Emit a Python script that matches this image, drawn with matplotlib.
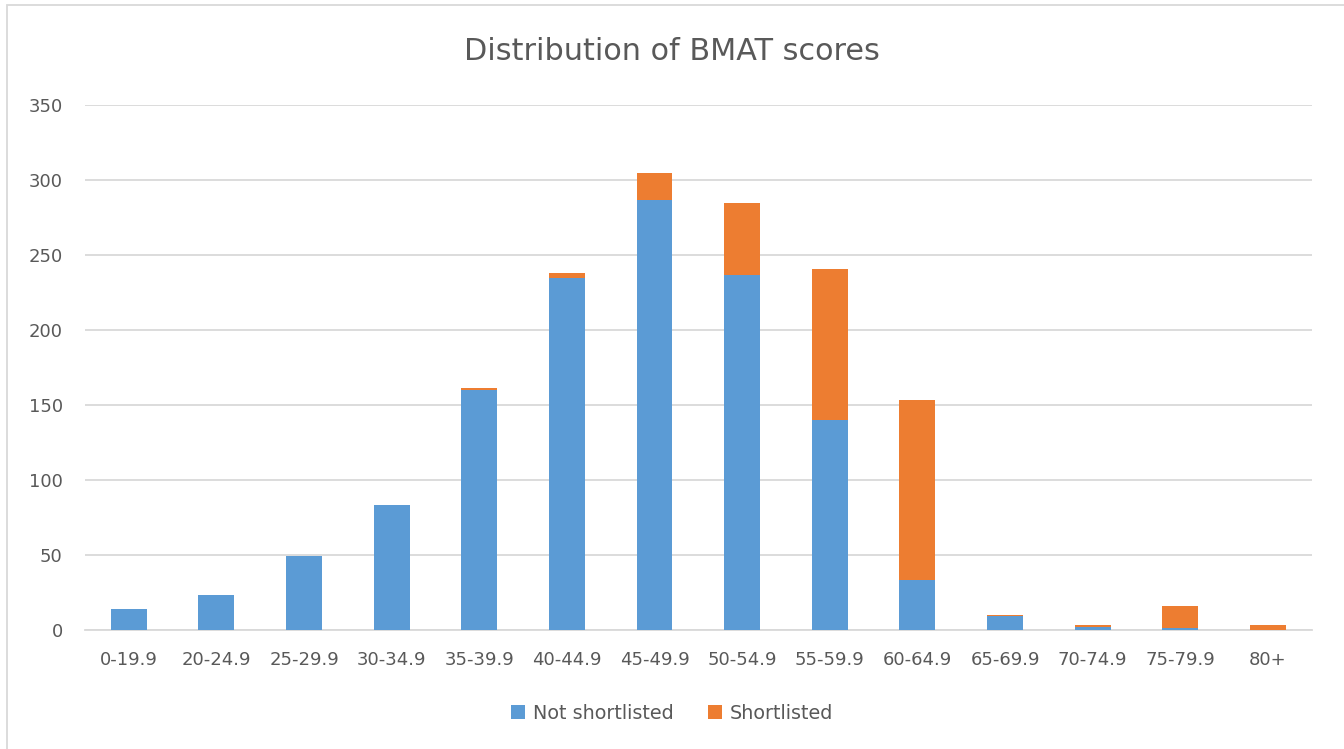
import numpy as np
import matplotlib.pyplot as plt
from matplotlib.patches import Rectangle

plt.rcParams['font.family'] = ['DejaVu Sans']

# 数据
categories = ['0-19.9', '20-24.9', '25-29.9', '30-34.9', '35-39.9', '40-44.9', '45-49.9',
              '50-54.9', '55-59.9', '60-64.9', '65-69.9', '70-74.9', '75-79.9', '80+']
not_shortlisted = [14, 23, 49, 83, 160, 235, 287, 237, 140, 33, 9, 2, 1, 0]
shortlisted = [0, 0, 0, 0, 1, 3, 18, 48, 101, 120, 1, 1, 15, 3]

blue = '#5B9BD5'
orange = '#ED7D31'
txt = '#595959'

fig = plt.figure(figsize=(13.44, 7.49), dpi=100)
ax = fig.add_axes([0.0632, 0.1589, 0.9128, 0.7009])

x = np.arange(len(categories))
w = 0.41
ax.bar(x, not_shortlisted, w, color=blue, label='Not shortlisted', zorder=3)
ax.bar(x, shortlisted, w, bottom=not_shortlisted, color=orange, label='Shortlisted', zorder=3)

ax.set_xlim(-0.5, len(categories) - 0.5)
ax.set_ylim(0, 350)
ax.set_yticks(range(0, 351, 50))
ax.set_xticks(x)
ax.set_xticklabels(categories)
ax.grid(axis='y', color='#D9D9D9', linewidth=1.3, zorder=0)
for s in ['top', 'right', 'left']:
    ax.spines[s].set_visible(False)
ax.spines['bottom'].set_color('#D9D9D9')
ax.spines['bottom'].set_linewidth(1.3)
ax.tick_params(length=0, labelsize=13, colors=txt, pad=15)
ax.tick_params(axis='y', pad=16)

fig.text(0.5, 0.931, 'Distribution of BMAT scores', ha='center', va='center',
         fontsize=21.8, color=txt)

fig.legend(loc='center', bbox_to_anchor=(0.5, 0.048), ncol=2, frameon=False,
           fontsize=13.8, labelcolor=txt, handlelength=0.75, handleheight=0.75,
           handletextpad=0.4, columnspacing=1.8)

# 外框
fig.patches.append(Rectangle((7 / 1344, -0.01), 1.02, 1 - 5 / 749 + 0.01,
                             transform=fig.transFigure, fill=False,
                             edgecolor='#D9D9D9', linewidth=1.3))

fig.savefig('out.png', dpi=100)
